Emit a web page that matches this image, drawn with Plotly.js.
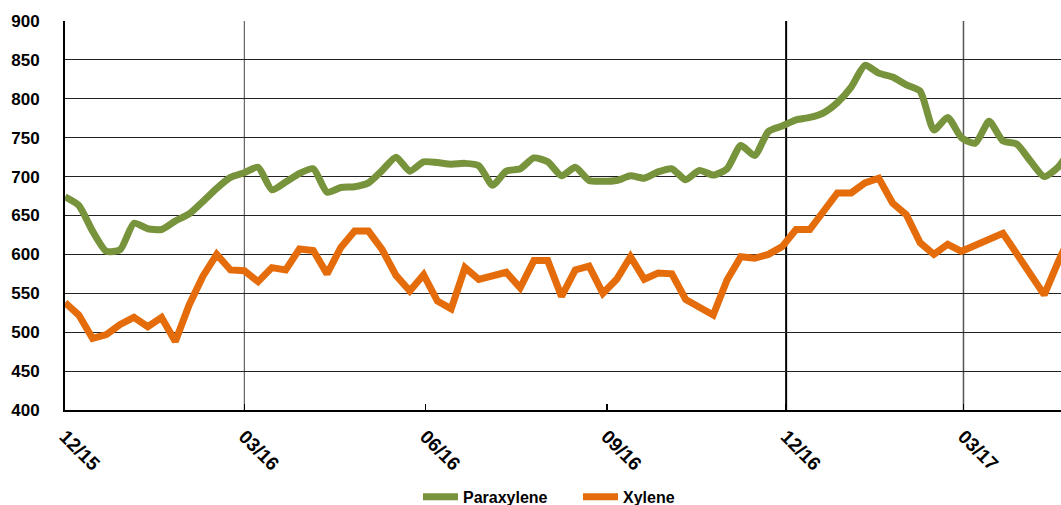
<!DOCTYPE html>
<html>
<head>
<meta charset="utf-8">
<script src="https://cdn.plot.ly/plotly-3.0.1.min.js"></script>
<style>html,body{margin:0;padding:0;background:#fff;}#chart{width:1061px;height:505px;}</style>
</head>
<body>
<div id="chart"></div>
<script>
const weeks = [
 '2015-12-01','2015-12-08','2015-12-15','2015-12-22','2015-12-29',
 '2016-01-05','2016-01-12','2016-01-19','2016-01-26','2016-02-02','2016-02-09','2016-02-16','2016-02-23',
 '2016-03-01','2016-03-08','2016-03-15','2016-03-22','2016-03-29','2016-04-05','2016-04-12','2016-04-19','2016-04-26',
 '2016-05-03','2016-05-10','2016-05-17','2016-05-24','2016-05-31','2016-06-07','2016-06-14','2016-06-21','2016-06-28',
 '2016-07-05','2016-07-12','2016-07-19','2016-07-26','2016-08-02','2016-08-09','2016-08-16','2016-08-23','2016-08-30',
 '2016-09-06','2016-09-13','2016-09-20','2016-09-27','2016-10-04','2016-10-11','2016-10-18','2016-10-25',
 '2016-11-01','2016-11-08','2016-11-15','2016-11-22','2016-11-29','2016-12-06','2016-12-13','2016-12-20','2016-12-27',
 '2017-01-03','2017-01-10','2017-01-17','2017-01-24','2017-01-31','2017-02-07','2017-02-14','2017-02-21','2017-02-28',
 '2017-03-07','2017-03-14','2017-03-21','2017-03-28','2017-04-04','2017-04-11','2017-04-18','2017-04-25'
];

const paraxylene = [
 674,663,630,604,606,
 640,633,632,643,652,668,685,699,
 705,712,683,693,704,710,680,686,687,
 692,708,725,707,719,718,716,717,714,
 689,707,710,724,719,701,712,695,694,
 695,701,698,706,710,696,708,702,
 710,740,727,758,765,773,776,782,795,
 815,843,833,828,818,810,760,776,750,
 743,771,746,742,720,700,712,738
];

const xylene = [
 538,522,492,497,510,
 519,507,519,488,535,572,600,580,
 579,565,583,580,607,605,575,609,630,
 630,606,573,553,574,540,530,583,568,
 572,577,557,592,592,546,580,585,550,
 568,597,568,576,575,542,532,522,
 567,597,595,600,610,632,632,657,679,
 679,692,698,666,651,615,600,613,604,
 612,620,627,601,575,548,590,628
];

const tickLabelsFormat = '%m/%y';
const dividerDates = ['2016-03-01','2016-12-01','2017-03-01'];
const dividerWidths = [1, 2, 1.5];
const dividerColors = ['#444','#000','#555'];

const FONT = 'Liberation Sans, Arial, sans-serif';

const traces = [
 {x: weeks, y: paraxylene, name: 'Paraxylene', type: 'scatter', mode: 'lines',
  line: {color: '#77933C', width: 7, shape: 'spline', smoothing: 0.6}},
 {x: weeks, y: xylene, name: 'Xylene', type: 'scatter', mode: 'lines',
  line: {color: '#E46C0A', width: 7}}
];

const shapes = dividerDates.map((d, i) => ({
 type: 'line', xref: 'x', yref: 'paper', x0: d, x1: d, y0: 0, y1: 1,
 line: {color: dividerColors[i], width: dividerWidths[i]}, layer: 'below'
}));

const layout = {
 width: 1061, height: 505,
 margin: {l: 65, r: 0, t: 21, b: 95, autoexpand: false},
 paper_bgcolor: '#fff', plot_bgcolor: '#fff',
 font: {family: FONT, color: '#000'},
 showlegend: true,
 legend: {orientation: 'h', x: 0.3544, xanchor: 'left', xref: 'paper',
  y: 0.016, yanchor: 'middle', yref: 'container',
  font: {family: FONT, size: 16, weight: 'bold', color: '#000'}, entrywidth: 110, itemwidth: 35},
 xaxis: {
  type: 'date', range: ['2015-12-01', '2017-04-19 12:00'], automargin: false,
  tick0: '2015-12-01', dtick: 'M3', tickformat: tickLabelsFormat, tickangle: 45,
  ticks: 'inside', ticklen: 6, tickwidth: 1.5, tickcolor: '#000', ticklabelstandoff: 6,
  showgrid: false, showline: true, linecolor: '#000', linewidth: 2, zeroline: false,
  tickfont: {family: FONT, size: 19, weight: 'bold', color: '#000'}
 },
 yaxis: {
  range: [400, 900], dtick: 50, tick0: 400, automargin: false,
  showgrid: true, gridcolor: '#222', gridwidth: 1,
  showline: true, linecolor: '#000', linewidth: 2, zeroline: false,
  ticks: '', ticklabelstandoff: 20,
  tickfont: {family: FONT, size: 17, weight: 'bold', color: '#000'}
 },
 shapes: shapes
};

Plotly.newPlot('chart', traces, layout, {displayModeBar: false, staticPlot: true});
</script>
</body>
</html>
